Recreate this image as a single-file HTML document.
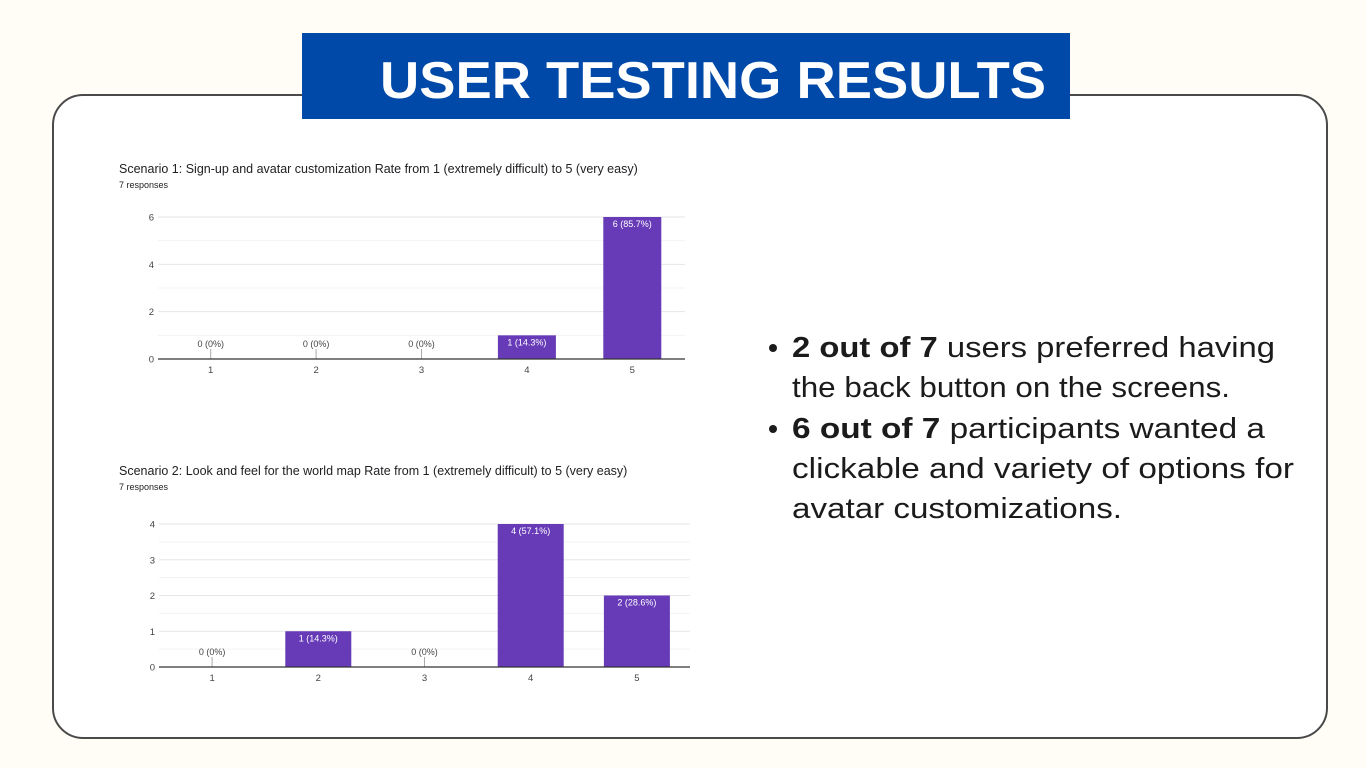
<!DOCTYPE html>
<html><head><meta charset="utf-8"><style>
body{margin:0;width:1366px;height:768px;background:#fffdf6;overflow:hidden;font-family:"Liberation Sans",sans-serif;position:relative}
svg{position:absolute;left:0;top:0}
</style></head><body>
<svg id="main" width="1366" height="768">
<rect x="53" y="95" width="1274" height="643" rx="30" fill="#ffffff" stroke="#4a4a4a" stroke-width="2"/>
<rect x="302" y="33" width="768" height="86" fill="#0049a9"/>
<text x="380" y="98" font-size="52" font-weight="bold" fill="#fff" textLength="666" lengthAdjust="spacingAndGlyphs">USER TESTING RESULTS</text>
<g font-size="29" fill="#1b1b1b">
<circle cx="773" cy="348" r="4" fill="#1b1b1b"/>
<text x="792" y="357" textLength="483" lengthAdjust="spacingAndGlyphs"><tspan font-weight="bold">2 out of 7</tspan> users preferred having</text>
<text x="792" y="397" textLength="438" lengthAdjust="spacingAndGlyphs">the back button on the screens.</text>
<circle cx="773" cy="429" r="4" fill="#1b1b1b"/>
<text x="792" y="438" textLength="473" lengthAdjust="spacingAndGlyphs"><tspan font-weight="bold">6 out of 7</tspan> participants wanted a</text>
<text x="792" y="478" textLength="502" lengthAdjust="spacingAndGlyphs">clickable and variety of options for</text>
<text x="792" y="518" textLength="330" lengthAdjust="spacingAndGlyphs">avatar customizations.</text>
</g>
<g id="chart1"></g>
<g id="chart2"></g>
</svg>
<script>
const categories = ["1","2","3","4","5"];
const s1Values = [0,0,0,1,6];
const s1Labels = ["0 (0%)","0 (0%)","0 (0%)","1 (14.3%)","6 (85.7%)"];
const s1Ticks = [0,2,4,6];
const s2Values = [0,1,0,4,2];
const s2Labels = ["0 (0%)","1 (14.3%)","0 (0%)","4 (57.1%)","2 (28.6%)"];
const s2Ticks = [0,1,2,3,4];
const NS="http://www.w3.org/2000/svg";
function mk(tag,attrs,parent,txt){const e=document.createElementNS(NS,tag);for(const k in attrs)e.setAttribute(k,attrs[k]);if(txt!==undefined)e.textContent=txt;parent.appendChild(e);return e;}
function draw(g,cfg){
  mk('rect',{x:cfg.cx,y:cfg.cy,width:cfg.cw,height:cfg.ch,fill:'#fff'},g);
  const t=mk('text',{x:cfg.cx+19,y:cfg.cy+30,'font-size':12.5,fill:'#202124'},g,cfg.title);
  
  
  const r=mk('text',{x:cfg.cx+19,y:cfg.cy+45,'font-size':9,fill:'#202124'},g,'7 responses');
  
  
  const max=cfg.ticks[cfg.ticks.length-1];
  const y=v=>cfg.y0-(cfg.y0-cfg.yTop)*v/max;
  const step=(cfg.x1-cfg.x0)/categories.length;
  const xc=i=>cfg.x0+step*(i+0.5);
  // minor grid
  for(let k=0;k<cfg.ticks.length-1;k++){
    const mid=(cfg.ticks[k]+cfg.ticks[k+1])/2;
    mk('line',{x1:cfg.x0,x2:cfg.x1,y1:y(mid),y2:y(mid),stroke:'#f3f3f3'},g);
  }
  cfg.ticks.forEach(v=>{
    const l=mk('line',{x1:cfg.x0,x2:cfg.x1,y1:y(v),y2:y(v),stroke:'#e6e6e6'},g);
    
    
    const tl=mk('text',{x:cfg.x0-4,y:y(v)+3.5,'font-size':9.5,fill:'#444','text-anchor':'end'},g,String(v));
    
    
  });
  cfg.values.forEach((v,i)=>{
    if(v>0){
      const b=mk('rect',{x:xc(i)-cfg.bw/2,y:y(v),width:cfg.bw,height:cfg.y0-y(v),fill:'#673ab7'},g);
      
      
      const bl=mk('text',{x:xc(i),y:y(v)+10,'font-size':9,fill:'#fff','text-anchor':'middle'},g,cfg.labels[i]);
      
      
    } else {
      mk('line',{x1:xc(i),x2:xc(i),y1:cfg.y0-10,y2:cfg.y0,stroke:'#aaa'},g);
      const zl=mk('text',{x:xc(i),y:cfg.y0-12,'font-size':9,fill:'#444','text-anchor':'middle'},g,cfg.labels[i]);
      
      
    }
    const xl=mk('text',{x:xc(i),y:cfg.y0+14,'font-size':9.5,fill:'#444','text-anchor':'middle'},g,categories[i]);
    
    
  });
  const ax=mk('line',{x1:cfg.x0,x2:cfg.x1,y1:cfg.y0,y2:cfg.y0,stroke:'#333','stroke-width':1.2},g);
  
  
}
draw(document.getElementById('chart1'),{cx:100,cy:143,cw:585,ch:272,title:'Scenario 1: Sign-up and avatar customization Rate from 1 (extremely difficult) to 5 (very easy)',x0:158,x1:685,y0:359,yTop:217,bw:58,values:s1Values,labels:s1Labels,ticks:s1Ticks});
draw(document.getElementById('chart2'),{cx:100,cy:445,cw:590,ch:280,title:'Scenario 2: Look and feel for the world map  Rate from 1 (extremely difficult) to 5 (very easy)',x0:159,x1:690,y0:667,yTop:524,bw:66,values:s2Values,labels:s2Labels,ticks:s2Ticks});
</script>
</body></html>
